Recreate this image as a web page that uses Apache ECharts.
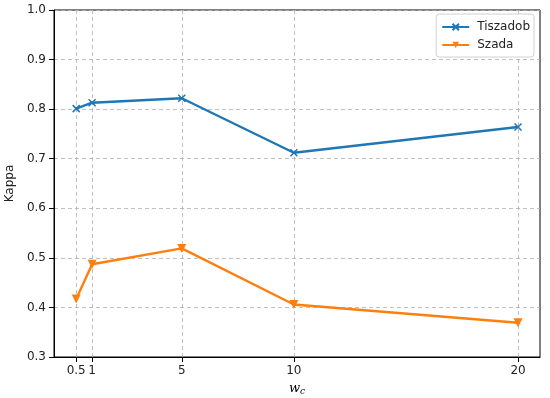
<!DOCTYPE html>
<html><head><meta charset="utf-8">
<script src="https://cdn.jsdelivr.net/npm/echarts@6/dist/echarts.min.js"></script>
<style>html,body{margin:0;padding:0;background:#fff}#c{width:550px;height:398px}</style>
</head><body><div id="c"></div>
<script>
// x tick labels and the axis position each one sits at in the reference
var xLabels = ['0.5', '1', '5', '10', '20'];
var xPos = [0.29, 1, 5, 10, 20];
var yTicks = [0.3, 0.4, 0.5, 0.6, 0.7, 0.8, 0.9, 1.0];
var seriesNames = ['Tiszadob', 'Szada'];
var tiszadob = [0.801, 0.813, 0.822, 0.712, 0.764];
var szada = [0.417, 0.487, 0.519, 0.406, 0.369];

function pairs(vals) { return vals.map(function (v, i) { return [xPos[i], v]; }); }
var F = 'DejaVu Sans';
var chart = echarts.init(document.getElementById('c'), null, {renderer: 'canvas'});
chart.setOption({
  animation: false,
  backgroundColor: '#fff',
  grid: {left: 54, right: 10, top: 10, bottom: 41, show: true, borderColor: '#000', borderWidth: 1,
    backgroundColor: 'transparent', containLabel: false, outerBoundsMode: 'none'},
  xAxis: {
    type: 'value', min: -0.7, max: 20.98,
    name: '{w|w}{c|c}', nameLocation: 'middle', nameGap: 21,
    nameTextStyle: {rich: {w: {fontFamily: 'DejaVu Serif', fontStyle: 'italic', fontSize: 13, color: '#000'}, c: {fontFamily: 'DejaVu Serif', fontStyle: 'italic', fontSize: 9, color: '#000', verticalAlign: 'bottom', padding: [6, 0, 0, 0]}}},
    axisLine: {onZero: false, lineStyle: {color: '#000', width: 1}},
    axisTick: {show: true, length: 5, lineStyle: {color: '#000'}, customValues: xPos},
    axisLabel: {customValues: xPos, margin: 8, fontFamily: F, fontSize: 12, color: '#222',
      formatter: function (v) { var i = xPos.indexOf(v); return i >= 0 ? xLabels[i] : ''; }},
    splitLine: {show: true, lineStyle: {color: '#b0b0b0', type: [4, 3], width: 0.8}}
  },
  yAxis: {
    type: 'value', min: 0.3, max: 1.0, interval: 0.1,
    name: 'Kappa', nameLocation: 'middle', nameGap: 34,
    nameTextStyle: {fontFamily: F, fontSize: 12, color: '#222'},
    axisLine: {show: true, onZero: false, lineStyle: {color: '#000', width: 1}},
    axisTick: {show: true, length: 5, lineStyle: {color: '#000'}},
    axisLabel: {margin: 8, fontFamily: F, fontSize: 12, color: '#222',
      formatter: function (v) { return v.toFixed(1); }},
    splitLine: {show: true, lineStyle: {color: '#b0b0b0', type: [4, 3], width: 0.8}}
  },
  legend: {
    right: 16, top: 14, orient: 'vertical', itemGap: 6, itemWidth: 27, itemHeight: 8,
    backgroundColor: '#fff', borderColor: '#d0d0d0', borderWidth: 1, borderRadius: 3,
    padding: [7, 4, 6, 5],
    textStyle: {fontFamily: F, fontSize: 12, color: '#222', padding: [0, 0, 0, 3]},
    data: seriesNames
  },
  series: [
    {name: seriesNames[0], type: 'line', data: pairs(tiszadob),
     color: '#1f77b4', lineStyle: {width: 2.4, color: '#1f77b4'},
     symbol: 'path://M0,0L10,10M10,0L0,10', symbolSize: 7, showAllSymbol: true,
     itemStyle: {color: '#1f77b4', borderColor: '#1f77b4', borderWidth: 1.5}},
    {name: seriesNames[1], type: 'line', data: pairs(szada),
     color: '#ff7f0e', lineStyle: {width: 2.4, color: '#ff7f0e'},
     symbol: 'path://M0,0L10,0L5,9Z', symbolSize: 9, showAllSymbol: true,
     itemStyle: {color: '#ff7f0e', borderWidth: 0}}
  ]
});
</script></body></html>
